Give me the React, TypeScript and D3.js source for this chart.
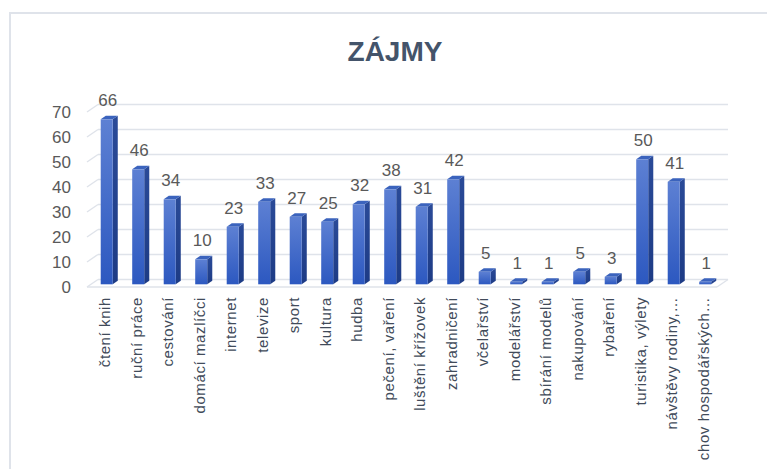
import React from 'react';
import * as d3 from 'd3';

const categories = [
  'čtení knih', 'ruční práce', 'cestování', 'domácí mazlíčci', 'internet',
  'televize', 'sport', 'kultura', 'hudba', 'pečení, vaření',
  'luštění křížovek', 'zahradničení', 'včelařství', 'modelářství', 'sbírání modelů',
  'nakupování', 'rybaření', 'turistika, výlety', 'návštěvy rodiny,…', 'chov hospodářských…',
];
const values = [66, 46, 34, 10, 23, 33, 27, 25, 32, 38, 31, 42, 5, 1, 1, 5, 3, 50, 41, 1];
const yTicks = [0, 10, 20, 30, 40, 50, 60, 70];

const W = 767;
const H = 469;
const font = '"Liberation Sans", Arial, sans-serif';
const textColor = '#595959';
const catColor = '#414b5a';

// 3d depth of the plot box
const DX = 11;
const DY = 7.5;

export default function App() {
  const x = d3.scaleBand<string>().domain(categories).range([87, 717]).paddingInner(0).paddingOuter(0);
  const y = d3.scaleLinear().domain([0, 70]).range([287, 112]);

  const step = x.step();
  const barW = 12;
  const d0 = 0.36; // bar front depth
  const d1 = 0.82; // bar back depth
  const [x0, x1] = x.range();
  const y0 = y(0);

  return (
    <svg width={W} height={H} style={{ position: 'absolute', left: 0, top: 0, background: '#fff' }}>
      <defs>
        <linearGradient id="front" x1="0" y1="0" x2="0" y2="1">
          <stop offset="0%" stopColor="#5d80d3" />
          <stop offset="100%" stopColor="#2c58c0" />
        </linearGradient>
        <linearGradient id="side" x1="0" y1="0" x2="0" y2="1">
          <stop offset="0%" stopColor="#2a4a98" />
          <stop offset="100%" stopColor="#1d3b85" />
        </linearGradient>
      </defs>

      {/* chart border */}
      <path d={`M10,${H} L10,13 L${W},13`} fill="none" stroke="#dfe3ea" strokeWidth={2} />

      <text x={395} y={61} textAnchor="middle" fontFamily={font} fontWeight="bold" fontSize={28} fill="#44546a">
        ZÁJMY
      </text>

      {/* side wall ticks + back wall gridlines */}
      {yTicks.map(t => (
        <g key={t}>
          <line x1={x0} y1={y(t)} x2={x0 + DX} y2={y(t) - DY} stroke="#dfe3ea" strokeWidth={1.5} />
          <line x1={x0 + DX} y1={y(t) - DY} x2={x1 + DX} y2={y(t) - DY} stroke="#dfe3ea" strokeWidth={1.5} />
          <text x={71} y={y(t)} dy="0.35em" textAnchor="end" fontFamily={font} fontSize={17} fill={textColor}>
            {t}
          </text>
        </g>
      ))}
      {/* floor front edge */}
      <line x1={x0} y1={y0} x2={x1} y2={y0} stroke="#dfe3ea" strokeWidth={1.5} />
      <line x1={x1} y1={y0} x2={x1 + DX} y2={y0 - DY} stroke="#dfe3ea" strokeWidth={1.5} />

      {/* bars */}
      {categories.map((c, i) => {
        const v = values[i];
        const cx = (x(c) as number) + step / 2;
        const fx = cx - barW / 2 + d0 * DX;
        const fb = y0 - d0 * DY;
        const ft = y(v) - d0 * DY;
        const ox = (d1 - d0) * DX;
        const oy = (d1 - d0) * DY;
        return (
          <g key={c}>
            <polygon
              points={`${fx + barW},${fb} ${fx + barW + ox},${fb - oy} ${fx + barW + ox},${ft - oy} ${fx + barW},${ft}`}
              fill="url(#side)"
            />
            <polygon
              points={`${fx},${ft} ${fx + ox},${ft - oy} ${fx + barW + ox},${ft - oy} ${fx + barW},${ft}`}
              fill="#3b63bd"
            />
            <rect x={fx} y={ft} width={barW} height={fb - ft} fill="url(#front)" />
            <text x={fx + barW / 2 + 1} y={ft - 13} textAnchor="middle" fontFamily={font} fontSize={17} fill={textColor}>
              {v}
            </text>
          </g>
        );
      })}

      {/* category labels */}
      {categories.map(c => {
        const cx = (x(c) as number) + step / 2 + 2;
        return (
          <text
            key={c}
            transform={`translate(${cx},297) rotate(-90)`}
            dy="0.35em"
            textAnchor="end"
            fontFamily={font}
            fontSize={15}
            letterSpacing={0.6}
            fill={catColor}
          >
            {c}
          </text>
        );
      })}
    </svg>
  );
}
